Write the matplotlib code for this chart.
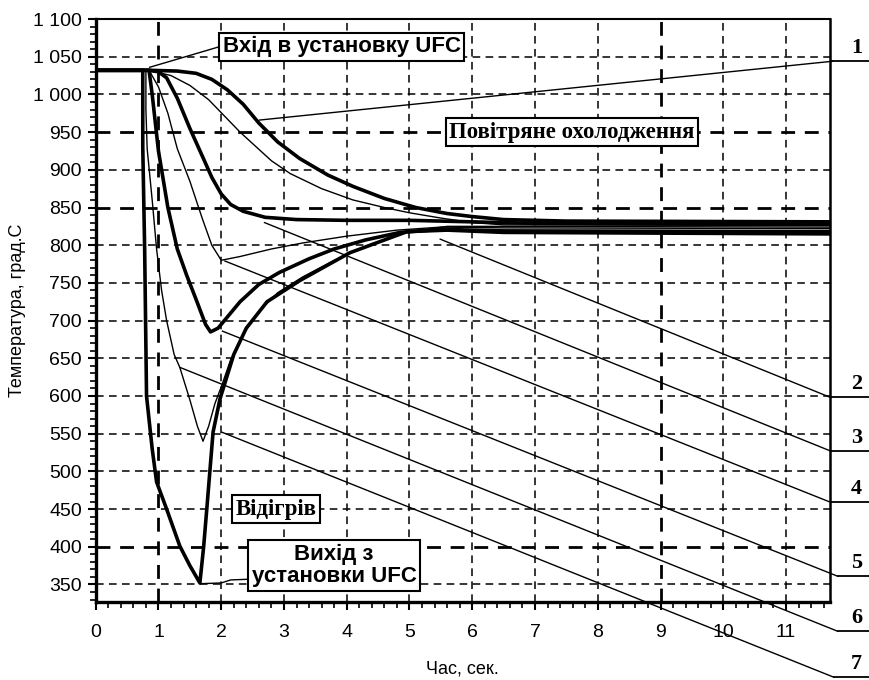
import matplotlib
matplotlib.use("Agg")
import matplotlib.pyplot as plt
from matplotlib.ticker import MultipleLocator, FuncFormatter

# temperature curves (time in s, temperature in deg C)
c1_x = [0, 0.85, 1.3, 1.6, 1.85, 2.1, 2.35, 2.6, 2.9, 3.25, 3.7, 4.1, 4.6, 5.1, 5.6, 6.0, 6.5, 7.5, 11.7]
c1_y = [1032, 1032, 1031, 1028, 1020, 1006, 987, 962, 937, 915, 893, 878, 862, 850, 842, 838, 834, 832, 831]

c2_x = [0.85, 1.2, 1.5, 1.8, 2.3, 2.8, 3.1, 3.6, 4.1, 4.6, 5.0, 5.5, 6.0, 6.5, 11.7]
c2_y = [1032, 1025, 1012, 993, 950, 912, 895, 875, 860, 850, 843, 836, 830, 827, 826]

c3_x = [0.85, 1.0, 1.13, 1.3, 1.5, 1.7, 1.85, 2.0, 2.15, 2.35, 2.7, 3.2, 4.0, 5.0, 6.0, 7.0, 11.7]
c3_y = [1032, 1030, 1022, 995, 955, 918, 890, 868, 854, 845, 837, 834, 833, 833, 831, 829, 828]

c4_x = [0.85, 1.0, 1.15, 1.3, 1.5, 1.7, 1.85, 2.0, 2.3, 2.8, 3.3, 4.0, 4.8, 5.5, 6.5, 11.7]
c4_y = [1032, 1010, 975, 928, 885, 835, 800, 780, 785, 795, 803, 812, 820, 824, 823, 822]

c5_x = [0.85, 0.9, 1.0, 1.15, 1.3, 1.45, 1.6, 1.75, 1.83, 1.95, 2.1, 2.3, 2.6, 2.93, 3.4, 3.8, 4.3, 4.85, 5.5, 6.5, 11.7]
c5_y = [1032, 1000, 925, 850, 795, 760, 728, 695, 685, 690, 705, 725, 748, 764, 782, 795, 807, 817, 821, 819, 818]

c6_x = [0.8, 0.8, 0.82, 0.9, 0.97, 1.05, 1.13, 1.25, 1.34, 1.5, 1.62, 1.71, 1.8, 1.9, 2.0, 2.15, 2.35, 2.6, 2.9, 3.3, 3.8, 4.4, 5.0, 5.6, 6.5, 11.7]
c6_y = [1032, 980, 928, 860, 795, 740, 700, 655, 638, 595, 560, 540, 560, 590, 612, 648, 682, 712, 737, 758, 780, 802, 818, 825, 825, 824]

c7_x = [0.75, 0.75, 0.78, 0.81, 0.9, 0.97, 1.13, 1.34, 1.5, 1.66, 1.72, 1.77, 1.87, 1.98, 2.2, 2.4, 2.73, 3.25, 4.05, 4.96, 5.6, 6.5, 11.7]
c7_y = [1032, 930, 795, 600, 530, 486, 450, 401, 375, 352, 400, 450, 552, 596, 655, 690, 725, 753, 790, 818, 820, 817, 815]

curves_x = [c1_x, c2_x, c3_x, c4_x, c5_x, c6_x, c7_x]
curves_y = [c1_y, c2_y, c3_y, c4_y, c5_y, c6_y, c7_y]
thick = [True, False, True, False, True, False, True]

# leader lines from the curve numbers on the right edge
labels = ["1", "2", "3", "4", "5", "6", "7"]
lead_x0 = [2.61, 5.49, 2.69, 2.06, 2.02, 1.34, 2.01]
lead_y0 = [966, 808, 830, 779, 686, 638, 552]
lead_x1 = [11.74, 11.71, 11.71, 11.71, 11.82, 11.82, 11.76]
lead_y1 = [1044, 598, 527, 459, 361, 288, 227]

entry_x = [0.86, 2.0]
entry_y = [1036, 1064]
exit_x = [1.66, 2.0, 2.15, 2.46]
exit_y = [351, 352, 356, 357]

yticks = list(range(350, 1101, 50))
xticks = list(range(0, 12))

sans = "Liberation Sans"
serif = "Liberation Serif"

fig = plt.figure(figsize=(8.7, 6.8), dpi=100)
ax = fig.add_axes([0.110, 0.115, 0.844, 0.857])

for xs, ys, t in zip(curves_x, curves_y, thick):
    if xs[0] > 0:
        xs, ys = [0] + xs, [ys[0]] + ys
    ax.plot(xs, ys, color="black", lw=2.6 if t else 1.0, solid_joinstyle="round", zorder=3)

for x0, y0, x1, y1, lab in zip(lead_x0, lead_y0, lead_x1, lead_y1, labels):
    ax.plot([x0, x1], [y0, y1], color="black", lw=1.0, clip_on=False, zorder=4)
    ax.plot([x1, 12.4], [y1, y1], color="black", lw=1.3, clip_on=False, zorder=4)
    ax.text(12.12, y1 + 4, lab, ha="center", va="bottom", fontsize=16,
            fontweight="bold", family=serif, clip_on=False)

ax.plot(entry_x, entry_y, color="black", lw=1.0, zorder=4)
ax.plot(exit_x, exit_y, color="black", lw=1.0, zorder=4)

box = dict(boxstyle="square,pad=0.15", fc="white", ec="black", lw=1.5)
ax.text(3.92, 1063, "Вхід в установку UFC", ha="center", va="center",
        fontsize=16, fontweight="bold", family=sans, bbox=box, zorder=5)
ax.text(7.59, 950, "Повітряне охолодження", ha="center", va="center",
        fontsize=16.5, fontweight="bold", family=serif, bbox=box, zorder=5)
ax.text(2.87, 450, "Відігрів", ha="center", va="center",
        fontsize=16.5, fontweight="bold", family=serif, bbox=box, zorder=5)
ax.text(3.80, 375, "Вихід з\nустановки UFC", ha="center", va="center",
        fontsize=16, fontweight="bold", family=sans, bbox=box,
        linespacing=1.1, zorder=5)

ax.set_xlim(0, 11.7)
ax.set_ylim(327, 1100)
ax.set_xticks(xticks)
ax.set_yticks(yticks)
ax.xaxis.set_minor_locator(MultipleLocator(0.2))
ax.yaxis.set_minor_locator(MultipleLocator(10))
ax.yaxis.set_major_formatter(FuncFormatter(lambda v, p: f"{int(v):,}".replace(",", " ")))
ax.tick_params(which="major", direction="out", length=6, width=1.5, labelsize=14)
ax.tick_params(which="minor", direction="out", length=4, width=1.2)
ax.tick_params(axis="x", which="major", pad=10)
ax.tick_params(axis="y", which="major", pad=4)
for t in ax.get_xticklabels() + ax.get_yticklabels():
    t.set_family(sans)

ax.grid(True, which="major", color="black", lw=1.1, linestyle=(0, (5, 3.5)))
for i, gl in enumerate(ax.get_ygridlines()):
    if yticks[i] in (950, 850, 400):
        gl.set_linewidth(2.0)
for i, gl in enumerate(ax.get_xgridlines()):
    if xticks[i] in (1, 9):
        gl.set_linewidth(2.0)

for side, w in (("left", 2.4), ("bottom", 2.4), ("top", 1.5), ("right", 1.8)):
    ax.spines[side].set_linewidth(w)

ax.set_xlabel("Час, сек.", fontsize=13, family=sans, labelpad=14)
ax.set_ylabel("Температура, град.С", fontsize=13, family=sans, labelpad=5)

fig.savefig("out.png", dpi=100)
